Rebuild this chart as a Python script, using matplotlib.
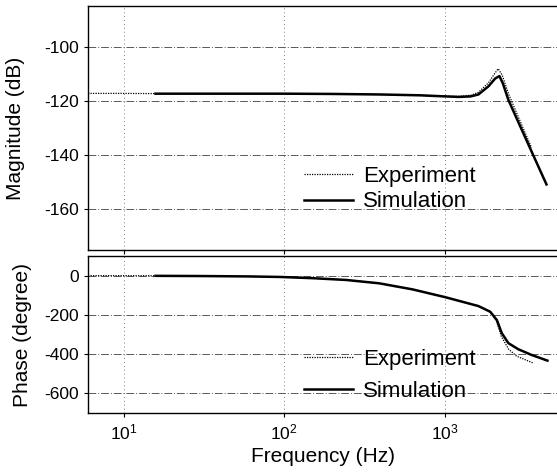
import numpy as np
import matplotlib
matplotlib.use("Agg")
import matplotlib.pyplot as plt

plt.rcParams['font.family'] = ['Liberation Sans', 'DejaVu Sans']
plt.rcParams['axes.unicode_minus'] = False

# magnitude, simulation
f_sim_mag = [15.8, 30, 60, 100, 200, 400, 700, 1000, 1220, 1450, 1620, 1870, 2060, 2190, 2300, 2490, 3000, 3600, 4300]
sim_mag = [-117.3, -117.3, -117.3, -117.3, -117.4, -117.6, -117.9, -118.3, -118.5, -118.3, -117.6, -114.6, -111.7, -110.8, -113.5, -119.6, -130.3, -140.7, -150.8]

# magnitude, experiment
f_exp_mag = [6, 10, 20, 50, 100, 200, 400, 700, 1000, 1220, 1450, 1620, 1870, 2050, 2150, 2280, 2500, 3000, 3470]
exp_mag = [-117.2, -117.2, -117.3, -117.3, -117.3, -117.4, -117.6, -117.9, -118.2, -118.3, -117.9, -116.8, -113.3, -109.8, -108.1, -110.5, -117.5, -128.5, -137.2]

# phase, simulation
f_sim_ph = [15.8, 30, 60, 94, 151, 243, 390, 630, 1010, 1620, 1920, 2110, 2265, 2490, 2870, 3470, 4360]
sim_ph = [-1, -2, -4, -6.6, -13, -22, -39, -70, -110, -155, -184, -226, -293, -344, -375, -404, -433]

# phase, experiment
f_exp_ph = [6, 10, 20, 50, 94, 151, 243, 390, 630, 1010, 1620, 1920, 2100, 2250, 2500, 2800, 3160, 3550]
exp_ph = [0, 0, -1, -3, -6.6, -13, -22, -39, -70, -110, -155, -186, -232, -310, -375, -410, -428, -445]

mag_ticks = [-100, -120, -140, -160]
ph_ticks = [0, -200, -400, -600]
f_ticks = [10, 100, 1000]

fig = plt.figure(figsize=(5.57, 4.75), dpi=100)
ax1 = fig.add_axes([0.158, 0.4737, 0.842, 0.5133])
ax2 = fig.add_axes([0.158, 0.1305, 0.842, 0.3305])

for ax in (ax1, ax2):
    ax.set_xscale('log')
    ax.set_xlim(6, 5000)
    ax.set_xticks(f_ticks)
    ax.xaxis.set_minor_locator(matplotlib.ticker.NullLocator())
    ax.grid(True, axis='y', color='0.35', lw=0.7, ls=(0, (8, 2, 1, 2)))
    ax.grid(True, axis='x', color='0.5', lw=0.7, ls=(0, (1, 3)))
    ax.spines['right'].set_visible(False)
    for s in ('left', 'top', 'bottom'):
        ax.spines[s].set_linewidth(1.0)
    ax.tick_params(direction='out', length=3, labelsize=12.5)

ax1.plot(f_exp_mag, exp_mag, color='black', lw=0.9, ls=(0, (1, 1)), label='Experiment')
ax1.plot(f_sim_mag, sim_mag, color='black', lw=1.8, label='Simulation')
ax1.set_ylim(-175, -85)
ax1.set_yticks(mag_ticks)
ax1.tick_params(axis='x', labelbottom=False)
ax1.set_ylabel('Magnitude (dB)', fontsize=15)
ax1.yaxis.set_label_coords(-0.134, 0.5)
ax1.legend(loc='upper left', bbox_to_anchor=(0.437, 0.39), frameon=False, fontsize=16,
           borderpad=0, handlelength=2.2, handletextpad=0.45, labelspacing=0.2)

ax2.plot(f_exp_ph, exp_ph, color='black', lw=0.9, ls=(0, (1, 1)), label='Experiment')
ax2.plot(f_sim_ph, sim_ph, color='black', lw=1.8, label='Simulation')
ax2.set_ylim(-700, 100)
ax2.set_yticks(ph_ticks)
ax2.set_ylabel('Phase (degree)', fontsize=15)
ax2.yaxis.set_label_coords(-0.119, 0.5)
ax2.set_xlabel('Frequency (Hz)', fontsize=15)
ax2.legend(loc='upper left', bbox_to_anchor=(0.437, 0.48), frameon=False, fontsize=16,
           borderpad=0, handlelength=2.2, handletextpad=0.45, labelspacing=0.5)

fig.savefig('out.png', dpi=100)
